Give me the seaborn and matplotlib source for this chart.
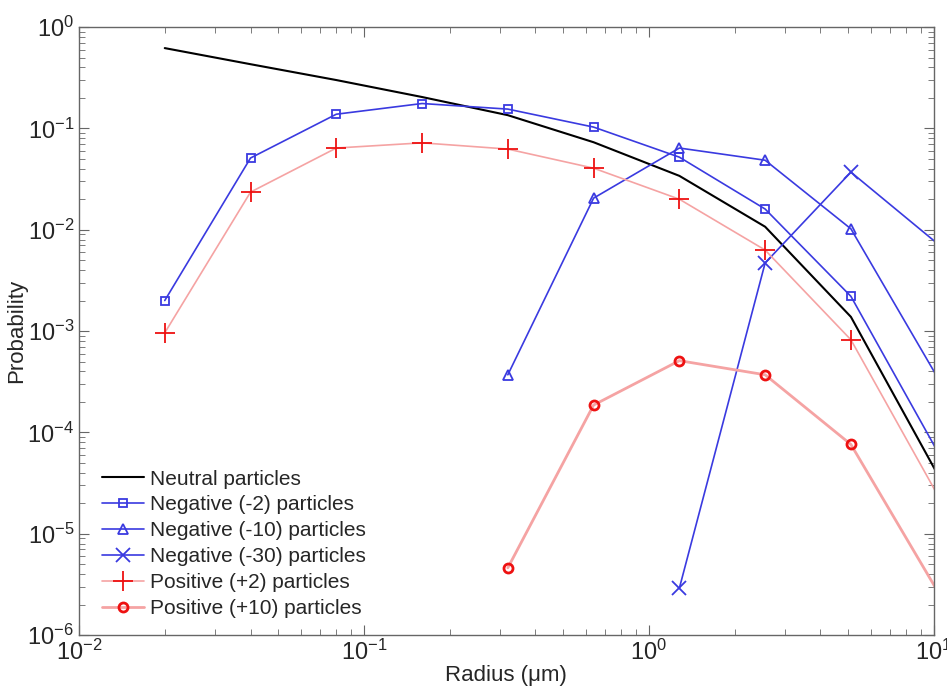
import numpy as np
import pandas as pd
import matplotlib
matplotlib.use("Agg")
import matplotlib.pyplot as plt
import seaborn as sns

# radius bins (um)
radius = [0.02, 0.04, 0.08, 0.16, 0.32, 0.64, 1.28, 2.56, 5.12, 10.24]

neutral = [0.62, 0.43, 0.30, 0.204, 0.135, 0.073, 0.034, 0.0107, 0.00138, 4.0e-5]
neg2 = [0.0020, 0.051, 0.138, 0.176, 0.155, 0.103, 0.052, 0.016, 0.0022, 6.7e-5]
neg10_r = [0.32, 0.64, 1.28, 2.56, 5.12, 10.24]
neg10 = [3.7e-4, 0.0205, 0.064, 0.0485, 0.0102, 3.6e-4]
neg30_r = [1.28, 2.56, 5.12, 10.24]
neg30 = [2.9e-6, 0.0047, 0.037, 0.0074]
pos2 = [9.6e-4, 0.0235, 0.064, 0.072, 0.0625, 0.0405, 0.0200, 0.0063, 8.2e-4, 2.5e-5]
pos10_r = [0.32, 0.64, 1.28, 2.56, 5.12, 10.24]
pos10 = [4.6e-6, 1.86e-4, 5.1e-4, 3.7e-4, 7.6e-5, 2.8e-6]

sns.set_style("ticks")
plt.rcParams["font.family"] = ["Liberation Sans", "DejaVu Sans"]

fig = plt.figure(figsize=(9.47, 6.94), dpi=100)
ax = fig.add_axes([0.0834, 0.085, 0.9026, 0.876])

blue = "#3a3ae0"
pink = "#f5a3a3"
red = "#ee1111"

series = [
    ("Neutral particles", radius, neutral, dict(color="black", lw=1.5, marker=None)),
    ("Negative (-2) particles", radius, neg2,
     dict(color=blue, lw=1.2, marker="s", ms=6, mfc="none", mec=blue, mew=1.3)),
    ("Negative (-10) particles", neg10_r, neg10,
     dict(color=blue, lw=1.2, marker="^", ms=7, mfc="none", mec=blue, mew=1.3)),
    ("Negative (-30) particles", neg30_r, neg30,
     dict(color=blue, lw=1.2, marker="x", ms=10, mec=blue, mew=1.3)),
    ("Positive (+2) particles", radius, pos2,
     dict(color=pink, lw=1.2, marker="+", ms=15, mec=red, mew=1.3)),
    ("Positive (+10) particles", pos10_r, pos10,
     dict(color=pink, lw=2.0, marker="o", ms=6.5, mfc="none", mec=red, mew=2.0)),
]

for name, xs, ys, kw in series:
    df = pd.DataFrame({"r": xs, "p": ys})
    # last point sits just past the axis edge: no marker drawn there
    if kw.get("marker"):
        kw["markevery"] = list(range(len(xs) - 1))
    sns.lineplot(data=df, x="r", y="p", ax=ax, label=name, sort=False,
                 estimator=None, clip_on=True, **kw)

ax.set_xscale("log")
ax.set_yscale("log")
ax.set_xlim(1e-2, 1e1)
ax.set_ylim(1e-6, 1e0)

ax.tick_params(which="both", direction="in", top=True, right=True,
               color="#666666", labelsize=17)
ax.tick_params(which="major", length=7)
ax.tick_params(which="minor", length=4)
for sp in ax.spines.values():
    sp.set_color("#666666")
    sp.set_linewidth(1.0)

ax.set_xlabel("Radius (\u03bcm)", fontsize=16, labelpad=0)
ax.set_ylabel("Probability", fontsize=16, labelpad=0)

ax.legend(loc="lower left", frameon=False, fontsize=15, handlelength=2.0,
          handletextpad=0.3, labelspacing=0.33, borderaxespad=0.3,
          bbox_to_anchor=(0.01, 0.004))

fig.savefig("out.png", dpi=100)
